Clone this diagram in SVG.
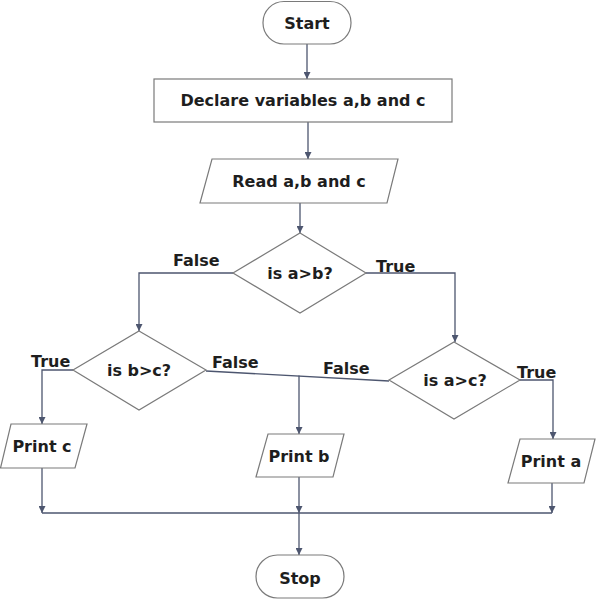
<svg xmlns="http://www.w3.org/2000/svg" width="597" height="600" viewBox="0 0 597 600">
<style>
.shape{fill:#ffffff;stroke:#7a7a7a;stroke-width:1.2}
.t{font-family:"DejaVu Sans",Verdana,sans-serif;font-weight:bold;font-size:16px;fill:#1e1e1e;text-anchor:middle}
.lbl{font-family:"DejaVu Sans",Verdana,sans-serif;font-weight:bold;font-size:16px;fill:#1e1e1e}
.c{fill:none;stroke:#4d566f;stroke-width:1.3}
</style>
<defs>
<marker id="arr" viewBox="0 0 10 10" refX="10" refY="5" markerWidth="7" markerHeight="7" markerUnits="userSpaceOnUse" orient="auto">
<path d="M0,0 L10,5 L0,10 z" fill="#4d566f"/>
</marker>
</defs>
<rect width="597" height="600" fill="#ffffff"/>
<g id="connectors">
<path class="c" d="M307,44 V79" marker-end="url(#arr)"/>
<path class="c" d="M308,122 V159" marker-end="url(#arr)"/>
<path class="c" d="M300,203 V233" marker-end="url(#arr)"/>
<path class="c" d="M233,273 H139 V331" marker-end="url(#arr)"/>
<path class="c" d="M366,273 H455 V342" marker-end="url(#arr)"/>
<path class="c" d="M73,370 H42 V424" marker-end="url(#arr)"/>
<path class="c" d="M206,371 L389,381"/>
<path class="c" d="M299,375.5 V434" marker-end="url(#arr)"/>
<path class="c" d="M520,380 H553 V439" marker-end="url(#arr)"/>
<path class="c" d="M42,468 V513" marker-end="url(#arr)"/>
<path class="c" d="M299,477 V513" marker-end="url(#arr)"/>
<path class="c" d="M552,483 V513" marker-end="url(#arr)"/>
<path class="c" d="M42,513 H552"/>
<path class="c" d="M299,513 V555" marker-end="url(#arr)"/>
<text class="lbl" x="173" y="266">False</text>
<text class="lbl" x="376" y="272">True</text>
<text class="lbl" x="31" y="367">True</text>
<text class="lbl" x="212" y="368">False</text>
<text class="lbl" x="323" y="374">False</text>
<text class="lbl" x="517" y="378">True</text>
</g>
<g id="start"><rect class="shape" x="263" y="1.5" width="88" height="42.5" rx="21" ry="21"/><text class="t" x="307" y="28.5">Start</text></g>
<g id="declare"><rect class="shape" x="154" y="79" width="298" height="43"/><text class="t" x="303" y="106">Declare variables a,b and c</text></g>
<g id="read"><polygon class="shape" points="212,159 398,159 387,203 200,203"/><text class="t" x="299" y="187">Read a,b and c</text></g>
<g id="d1"><polygon class="shape" points="300,233 366,273 300,313 233,273"/><text class="t" x="300" y="279">is a&gt;b?</text></g>
<g id="d2"><polygon class="shape" points="139,331 206,370 139,410 73,370"/><text class="t" x="139" y="376">is b&gt;c?</text></g>
<g id="d3"><polygon class="shape" points="454,342 520,380 454,419 389,380"/><text class="t" x="455" y="386">is a&gt;c?</text></g>
<g id="printc"><polygon class="shape" points="11,424 87,424 75,468 0.5,468"/><text class="t" x="42" y="452">Print c</text></g>
<g id="printb"><polygon class="shape" points="268,434 344,434 333,477 256,477"/><text class="t" x="299" y="462">Print b</text></g>
<g id="printa"><polygon class="shape" points="520,439 595,439 584,483 508,483"/><text class="t" x="551" y="467">Print a</text></g>
<g id="stop"><rect class="shape" x="256" y="555" width="88" height="43" rx="21.5" ry="21.5"/><text class="t" x="300" y="584">Stop</text></g>
</svg>
